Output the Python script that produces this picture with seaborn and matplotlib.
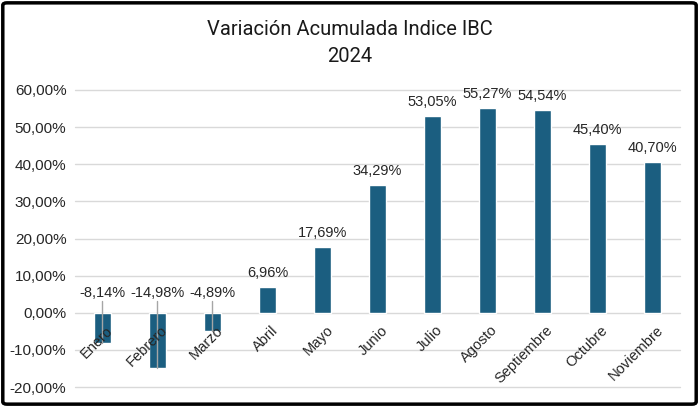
import numpy as np
import matplotlib
matplotlib.use('Agg')
import matplotlib.pyplot as plt
import seaborn as sns
import pandas as pd
from matplotlib.patches import FancyBboxPatch

meses = ['Enero', 'Febrero', 'Marzo', 'Abril', 'Mayo', 'Junio', 'Julio',
         'Agosto', 'Septiembre', 'Octubre', 'Noviembre']
variacion = [-8.14, -14.98, -4.89, 6.96, 17.69, 34.29, 53.05, 55.27, 54.54, 45.40, 40.70]
y_ticks = [-20, -10, 0, 10, 20, 30, 40, 50, 60]

bar_color = '#1b5e80'
grid_color = '#d9d9d9'

sns.set_style('white')
plt.rcParams['font.family'] = ['Liberation Sans', 'DejaVu Sans']

df = pd.DataFrame({'mes': meses, 'valor': variacion})

fig = plt.figure(figsize=(6.99, 4.07), dpi=100)
ax = fig.add_axes([0.107, 0.049, 0.866, 0.730])

sns.barplot(data=df, x='mes', y='valor', color=bar_color, width=0.31,
            saturation=1, ax=ax, zorder=3)

ax.set_xlim(-0.5, len(meses) - 0.5)
ax.set_ylim(-20, 60)
ax.set_yticks(y_ticks)
ax.set_yticklabels([f'{t:.2f}%'.replace('.', ',') for t in y_ticks], fontsize=11, color='#262626')
ax.tick_params(axis='y', length=0, pad=6)
ax.set_xticks([])
ax.set_xlabel('')
ax.set_ylabel('')
for t in y_ticks:
    ax.axhline(t, color=grid_color, lw=1, zorder=0, clip_on=False)
for s in ax.spines.values():
    s.set_visible(False)

# etiquetas de datos
for i, v in enumerate(variacion):
    txt = f'{v:.2f}%'.replace('.', ',')
    if v >= 0:
        ax.annotate(txt, (i, v), xytext=(0, 5), textcoords='offset points',
                    ha='center', va='bottom', fontsize=10.5, color='#262626')
    else:
        ax.text(i, 5.3, txt, ha='center', va='center', fontsize=10.5, color='#262626')
        ax.plot([i, i], [3.2, v], color='#a6a6a6', lw=1, zorder=4)

# etiquetas de categorias junto al eje cero
for i, m in enumerate(meses):
    ax.text(i + 0.06, -2.8, m, rotation=45, rotation_mode='anchor',
            ha='right', va='top', fontsize=10.5, color='#262626', zorder=5)

fig.text(0.5, 0.927, 'Variación Acumulada Indice IBC', ha='center', va='center',
         fontsize=14.5, family=['Roboto', 'DejaVu Sans'], color='#1a1a1a')
fig.text(0.5, 0.86, '2024', ha='center', va='center',
         fontsize=14.5, family=['Roboto', 'DejaVu Sans'], color='#1a1a1a')

border = FancyBboxPatch((0.004, 0.007), 0.992, 0.986, boxstyle='round,pad=0,rounding_size=0.006',
                        transform=fig.transFigure, fill=False, edgecolor='black', lw=2.5)
fig.patches.append(border)

fig.savefig('out.png', dpi=100)
